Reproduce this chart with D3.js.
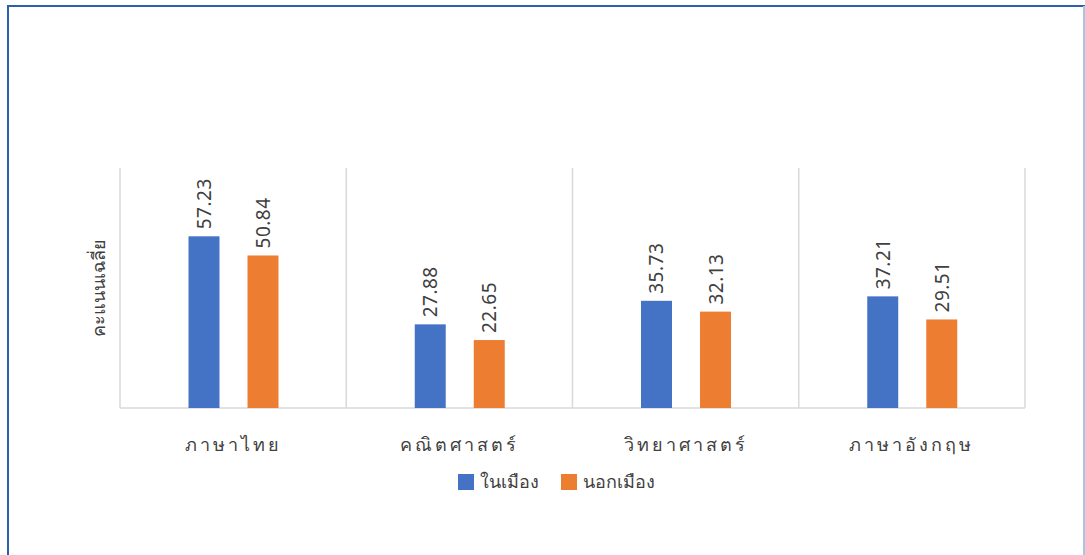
<!DOCTYPE html>
<html><head><meta charset="utf-8">
<script src="https://cdn.jsdelivr.net/npm/d3@7"></script>
<style>
html,body{margin:0;padding:0;background:#fff;}
svg{display:block;font-family:"Noto Sans","Liberation Sans",sans-serif;}
</style></head>
<body>
<svg id="c" width="1085" height="555"></svg>
<script>
const categories = ["ภาษาไทย","คณิตศาสตร์","วิทยาศาสตร์","ภาษาอังกฤษ"];
const seriesNames = ["ในเมือง","นอกเมือง"];
const inCity = [57.23, 27.88, 35.73, 37.21];
const outCity = [50.84, 22.65, 32.13, 29.51];
const colors = ["#4472C4","#ED7D31"];
const yAxisTitle = "คะแนนเฉลี่ย";

const svg = d3.select("#c");
// frame
svg.append("rect").attr("x",8).attr("y",6).attr("width",1076).attr("height",560)
  .attr("fill","none").attr("stroke","#2E5FAF").attr("stroke-width",2);
svg.append("line").attr("x1",1084).attr("x2",1084).attr("y1",6).attr("y2",555)
  .attr("stroke","#A9C4E8").attr("stroke-width",2);

const m = {l:120, r:1025, t:168, b:408};
const x = d3.scaleBand().domain(categories).range([m.l, m.r]);
const y = d3.scaleLinear().domain([0,80]).range([m.b, m.t]);
const x1 = d3.scaleBand().domain(seriesNames).range([68.5, 158.5]).paddingInner(0.475);

// vertical separators
const edges = categories.map(c=>x(c)).concat([m.r]);
svg.append("g").selectAll("line").data(edges).join("line")
  .attr("x1",d=>d).attr("x2",d=>d).attr("y1",m.t).attr("y2",m.b)
  .attr("stroke","#D9D9D9").attr("stroke-width",1.5);
// baseline
svg.append("line").attr("x1",m.l).attr("x2",m.r).attr("y1",m.b).attr("y2",m.b)
  .attr("stroke","#D9D9D9").attr("stroke-width",1.5);

const data = categories.map((c,i)=>({c, vals:[inCity[i], outCity[i]]}));
const g = svg.append("g").selectAll("g").data(data).join("g")
  .attr("transform",d=>`translate(${x(d.c)},0)`);
g.selectAll("rect").data(d=>d.vals.map((v,j)=>({v,s:seriesNames[j],j}))).join("rect")
  .attr("x",d=>x1(d.s)).attr("width",x1.bandwidth())
  .attr("y",d=>y(d.v)).attr("height",d=>m.b-y(d.v))
  .attr("fill",d=>colors[d.j]);
g.selectAll("text.v").data(d=>d.vals.map((v,j)=>({v,s:seriesNames[j],j}))).join("text")
  .attr("class","v")
  .attr("transform",d=>`translate(${x1(d.s)+x1.bandwidth()/2+7},${y(d.v)-7}) rotate(-90)`)
  .attr("text-anchor","start").attr("font-size",19).attr("fill","#404040")
  .attr("letter-spacing",0.5)
  .text(d=>d3.format(".2f")(d.v));

// category labels
svg.append("g").selectAll("text").data(categories).join("text")
  .attr("x",d=>x(d)+x.bandwidth()/2).attr("y",451)
  .attr("text-anchor","middle").attr("font-size",18).attr("fill","#404040")
  .attr("letter-spacing",3)
  .text(d=>d);

// y title
svg.append("text").attr("transform","translate(105,288) rotate(-90)")
  .attr("text-anchor","middle").attr("font-size",18).attr("fill","#404040")
  .text(yAxisTitle);

// legend
const lg = svg.append("g");
const lx = [458, 561];
seriesNames.forEach((s,i)=>{
  lg.append("rect").attr("x",lx[i]).attr("y",474).attr("width",16).attr("height",16).attr("fill",colors[i]);
  lg.append("text").attr("x",lx[i]+22).attr("y",488).attr("font-size",18).attr("fill","#404040").text(s);
});
</script>
</body></html>
